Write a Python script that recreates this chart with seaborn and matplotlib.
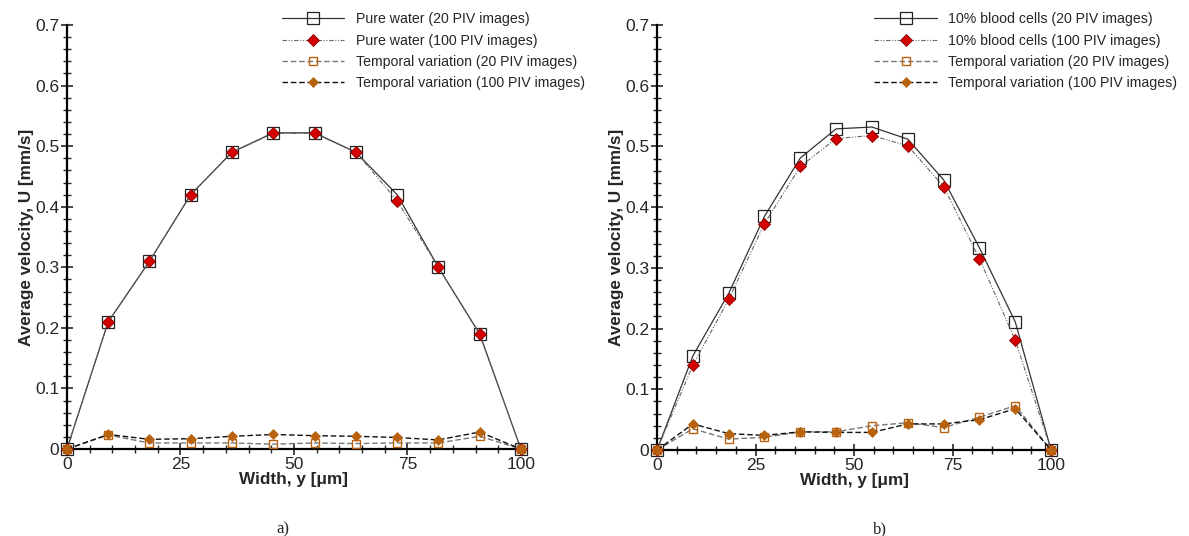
import matplotlib
matplotlib.use('Agg')
import matplotlib.pyplot as plt
import pandas as pd
import seaborn as sns
from matplotlib.ticker import MultipleLocator, FuncFormatter

# Data
width_um = [0, 9.09, 18.18, 27.27, 36.36, 45.45, 54.55, 63.64, 72.73, 81.82, 90.91, 100]

water_20 = [0, 0.21, 0.31, 0.42, 0.49, 0.522, 0.522, 0.49, 0.42, 0.30, 0.19, 0]
water_100 = [0, 0.21, 0.31, 0.42, 0.49, 0.521, 0.521, 0.49, 0.41, 0.30, 0.19, 0]
water_tv_20 = [0, 0.023, 0.010, 0.010, 0.010, 0.008, 0.010, 0.009, 0.010, 0.010, 0.021, 0]
water_tv_100 = [0, 0.024, 0.016, 0.017, 0.021, 0.024, 0.022, 0.021, 0.019, 0.015, 0.028, 0]

blood_20 = [0, 0.155, 0.258, 0.385, 0.481, 0.529, 0.532, 0.512, 0.445, 0.333, 0.211, 0]
blood_100 = [0, 0.140, 0.248, 0.373, 0.467, 0.513, 0.518, 0.501, 0.434, 0.315, 0.181, 0]
blood_tv_20 = [0, 0.035, 0.018, 0.021, 0.030, 0.030, 0.040, 0.045, 0.037, 0.054, 0.073, 0]
blood_tv_100 = [0, 0.043, 0.027, 0.024, 0.030, 0.029, 0.029, 0.043, 0.043, 0.050, 0.068, 0]

water_labels = ['Pure water (20 PIV images)', 'Pure water (100 PIV images)',
                'Temporal variation (20 PIV images)', 'Temporal variation (100 PIV images)']
blood_labels = ['10% blood cells (20 PIV images)', '10% blood cells (100 PIV images)',
                'Temporal variation (20 PIV images)', 'Temporal variation (100 PIV images)']

sns.set_style('ticks')
plt.rcParams['font.family'] = ['Liberation Sans', 'DejaVu Sans']

orange = '#b8620f'


def draw_panel(ax, series, labels, legend_x):
    df = pd.DataFrame({'y': width_um})
    styles = [
        dict(color='#333333', lw=0.9, ls='-', marker='s', ms=9, mfc='none',
             mec='#222222', mew=0.9),
        dict(color='#666666', lw=0.8, ls=(0, (4, 1.5, 1, 1.5, 1, 1.5)), marker='D', ms=6.5,
             mfc='#d40000', mec='#8a0000', mew=0.6),
        dict(color='#777777', lw=1.0, ls=(0, (4, 2)), marker='s', ms=5.5, mfc='none',
             mec=orange, mew=1.0),
        dict(color='#111111', lw=1.0, ls=(0, (4, 2)), marker='D', ms=5, mfc=orange,
             mec=orange, mew=0.5),
    ]
    for vals, lab, st in zip(series, labels, styles):
        df['u'] = vals
        sns.lineplot(data=df, x='y', y='u', ax=ax, label=lab, clip_on=False,
                     zorder=3, **st)

    ax.set_xlim(0, 100)
    ax.set_ylim(0, 0.7)
    ax.xaxis.set_major_locator(MultipleLocator(25))
    ax.xaxis.set_minor_locator(MultipleLocator(5))
    ax.yaxis.set_major_locator(MultipleLocator(0.1))
    ax.yaxis.set_minor_locator(MultipleLocator(0.02))
    ax.yaxis.set_major_formatter(FuncFormatter(lambda v, p: '0' if abs(v) < 1e-9 else f'{v:.1f}'))
    ax.tick_params(which='major', direction='inout', length=9, width=1.2, labelsize=12.5, pad=1)
    ax.tick_params(which='minor', direction='inout', length=6, width=1.0)
    for s in ['top', 'right']:
        ax.spines[s].set_visible(False)
    for s in ['left', 'bottom']:
        ax.spines[s].set_linewidth(1.6)
        ax.spines[s].set_color('black')
    ax.set_xlabel('Width, y [μm]', fontsize=12.3, fontweight='bold', labelpad=0)
    ax.set_ylabel('Average velocity, U [mm/s]', fontsize=12.3, fontweight='bold', labelpad=1)
    ax.legend(loc='upper left', bbox_to_anchor=(legend_x, 0.99),
              bbox_transform=ax.figure.transFigure, frameon=False, fontsize=10.2,
              handlelength=4.4, handletextpad=0.8, labelspacing=0.5, borderpad=0)


fig = plt.figure(figsize=(11.89, 5.36), dpi=100)
ax1 = fig.add_axes([0.0563, 0.1623, 0.3818, 0.791])
ax2 = fig.add_axes([0.5526, 0.1604, 0.3314, 0.7929])

draw_panel(ax1, [water_20, water_100, water_tv_20, water_tv_100], water_labels, 0.2313)
draw_panel(ax2, [blood_20, blood_100, blood_tv_20, blood_tv_100], blood_labels, 0.7295)

fig.text(0.238, 0.013, 'a)', family='Liberation Serif', fontsize=12, ha='center', va='center')
fig.text(0.740, 0.013, 'b)', family='Liberation Serif', fontsize=12, ha='center', va='center')

fig.savefig('out.png', dpi=100)
